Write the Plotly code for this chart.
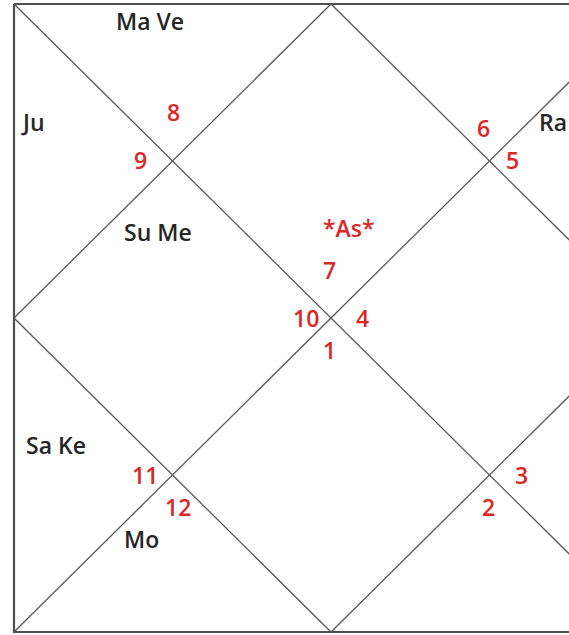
import plotly.graph_objects as go

# ---- data ----
house_numbers = [1, 2, 3, 4, 5, 6, 7, 8, 9, 10, 11, 12]          # chart houses
house_signs = [7, 8, 9, 10, 11, 12, 1, 2, 3, 4, 5, 6]            # sign number shown in each house
house_planets = ["*As*", "Ma Ve", "Ju", "Su Me", "Sa Ke", "Mo", "", "", "", "", "Ra", ""]
ascendant_label = "*As*"

# ---- layout geometry (fractions of chart square) ----
X0, Y0, X1, Y1 = 14, 4, 648, 632
W, H = X1 - X0, Y1 - Y0

def px(u, v):
    return X0 + u * W, Y0 + v * H

# anchor for sign number in each house (u, v)
sign_pos = {
    1: (0.497, 0.424), 2: (0.251, 0.172), 3: (0.199, 0.248), 4: (0.4606, 0.5),
    5: (0.2066, 0.75), 6: (0.2587, 0.801), 7: (0.497, 0.551), 8: (0.749, 0.801),
    9: (0.800, 0.75), 10: (0.549, 0.5), 11: (0.787, 0.248), 12: (0.740, 0.197),
}
# left start for planet text in each house (u, v)
planet_pos = {
    1: (0.484, 0.357), 2: (0.158, 0.0271), 3: (0.008, 0.188), 4: (0.171, 0.363),
    5: (0.016, 0.702), 6: (0.171, 0.852), 11: (0.825, 0.188),
}

RED = "#dd2626"
INK = "#262626"
LINE = "#585858"
FONT = "Open Sans"
FSIZE = 23

fig = go.Figure()

# inner lines: two diagonals and diamond
segments = [
    [(0, 0), (1, 1)], [(1, 0), (0, 1)],
    [(0.5, 0), (1, 0.5)], [(1, 0.5), (0.5, 1)], [(0.5, 1), (0, 0.5)], [(0, 0.5), (0.5, 0)],
]
for seg in segments:
    xs, ys = zip(*[px(u, v) for u, v in seg])
    fig.add_trace(go.Scatter(x=list(xs), y=list(ys), mode="lines",
                             line=dict(color=LINE, width=1.3), hoverinfo="skip", showlegend=False))

# outer border
bx, by = zip(*[px(u, v) for u, v in [(0, 0), (1, 0), (1, 1), (0, 1), (0, 0)]])
fig.add_trace(go.Scatter(x=list(bx), y=list(by), mode="lines",
                         line=dict(color="#505050", width=2.2), hoverinfo="skip", showlegend=False))

annotations = []
for h, s in zip(house_numbers, house_signs):
    x, y = px(*sign_pos[h])
    annotations.append(dict(x=x, y=y, text=str(s), showarrow=False, xanchor="center", yanchor="middle",
                            font=dict(family=FONT, size=FSIZE, color=RED, weight=600)))
for h, p in zip(house_numbers, house_planets):
    if not p:
        continue
    x, y = px(*planet_pos[h])
    col = RED if p == ascendant_label else INK
    annotations.append(dict(x=x, y=y, text=p, showarrow=False, xanchor="left", yanchor="middle",
                            font=dict(family=FONT, size=FSIZE, color=col, weight=600)))

fig.update_layout(
    width=569, height=635, margin=dict(l=0, r=0, t=0, b=0),
    paper_bgcolor="white", plot_bgcolor="white",
    xaxis=dict(range=[0, 569], visible=False, fixedrange=True),
    yaxis=dict(range=[635, 0], visible=False, fixedrange=True),
    annotations=annotations,
)

fig.write_html("out.html", config={"displayModeBar": False},
               post_script="document.body.style.margin='0';document.body.style.overflow='hidden';")
